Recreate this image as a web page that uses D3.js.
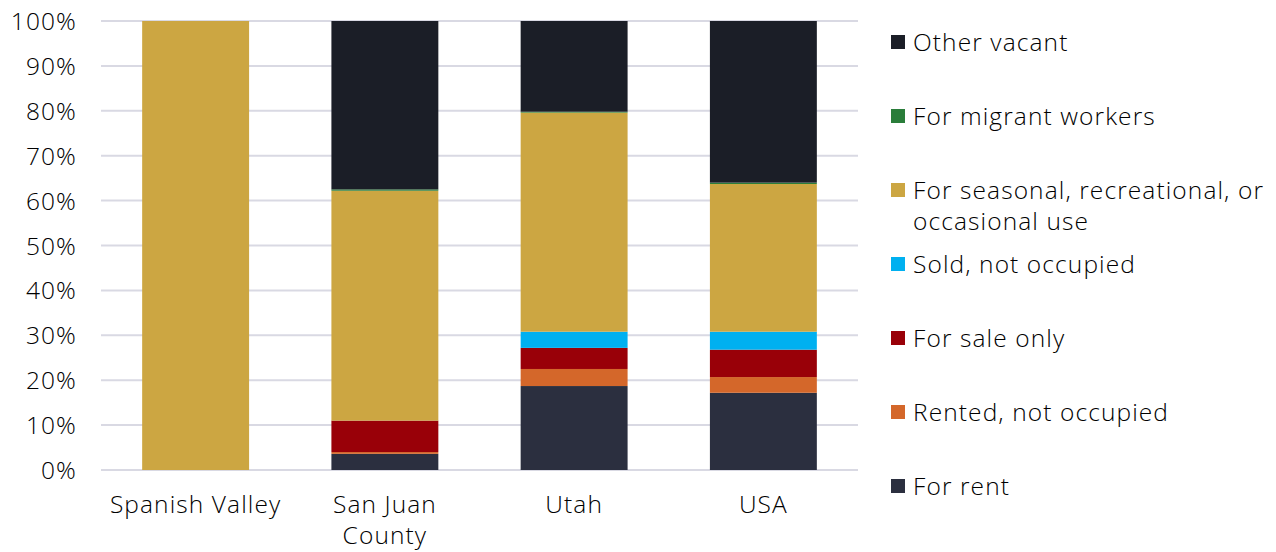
<!DOCTYPE html>
<html><head><meta charset="utf-8">
<script src="https://cdn.jsdelivr.net/npm/d3@7"></script>
<style>body{margin:0;background:#fff;} text{font-family:"Open Sans",Lato,sans-serif;fill:#000;font-weight:300;letter-spacing:1.1px;}</style>
</head><body>
<svg id="chart" width="1276" height="552"></svg>
<script>
const categories = ["Spanish Valley", "San Juan County", "Utah", "USA"];
const categoryLines = [["Spanish Valley"], ["San Juan", "County"], ["Utah"], ["USA"]];
const seriesNames = ["For rent", "Rented, not occupied", "For sale only", "Sold, not occupied", "For seasonal, recreational, or occasional use", "For migrant workers", "Other vacant"];
const forRent = [0, 3.6, 18.7, 17.2];
const rentedNotOccupied = [0, 0.4, 3.8, 3.5];
const forSaleOnly = [0, 7.0, 4.7, 6.1];
const soldNotOccupied = [0, 0, 3.6, 4.0];
const seasonal = [100, 51.2, 48.8, 32.9];
const migrantWorkers = [0, 0.3, 0.2, 0.3];
const otherVacant = [0, 37.5, 20.2, 36.0];
const yTicks = [0, 10, 20, 30, 40, 50, 60, 70, 80, 90, 100];
const colors = ["#2b2f3f", "#d4672a", "#990008", "#00b0f0", "#cca642", "#2a7d3a", "#1b1e27"];

const seriesValues = [forRent, rentedNotOccupied, forSaleOnly, soldNotOccupied, seasonal, migrantWorkers, otherVacant];
const keys = seriesNames;
const rows = categories.map((c, i) => {
  const r = {category: c};
  keys.forEach((k, j) => r[k] = seriesValues[j][i]);
  return r;
});

const FONT = "'Open Sans', Lato, sans-serif";
const FS = 24.5;
const svg = d3.select("#chart");
const x = d3.scaleBand().domain(categories).range([101, 858]).paddingInner(0.435).paddingOuter(0.2175);
const y = d3.scaleLinear().domain([0, 100]).range([470, 21]);

svg.append("g").selectAll("line").data(yTicks).join("line")
  .attr("x1", 101).attr("x2", 858)
  .attr("y1", d => y(d)).attr("y2", d => y(d))
  .attr("stroke", "#d9d9e3").attr("stroke-width", 2);

const yAxis = d3.axisLeft(y).tickValues(yTicks).tickFormat(d => d + "%").tickSize(0).tickPadding(0);
const ya = svg.append("g").attr("transform", "translate(77,0)").call(yAxis);
ya.select(".domain").remove();
ya.selectAll("text").attr("font-size", FS).style("font-family", FONT).attr("fill", "#000").attr("dy", "0.35em");

const stacked = d3.stack().keys(keys)(rows);
svg.append("g").selectAll("g").data(stacked).join("g")
  .attr("fill", (d, i) => colors[i])
  .selectAll("rect").data(d => d).join("rect")
  .attr("x", d => x(d.data.category))
  .attr("width", x.bandwidth())
  .attr("y", d => y(d[1]))
  .attr("height", d => Math.max(0, y(d[0]) - y(d[1])));

const xAxis = d3.axisBottom(x).tickSize(0).tickFormat("");
const xa = svg.append("g").attr("transform", "translate(0,470)").call(xAxis);
xa.select(".domain").remove();
xa.selectAll(".tick").each(function(d, i) {
  const t = d3.select(this).append("text").attr("text-anchor", "middle").attr("font-size", FS).style("font-family", FONT).attr("fill", "#000");
  categoryLines[i].forEach((ln, k) => {
    t.append("tspan").attr("x", 0).attr("y", 43 + k * 31).text(ln);
  });
});

const legendItems = [
  {name: "Other vacant", lines: ["Other vacant"], color: colors[6]},
  {name: "For migrant workers", lines: ["For migrant workers"], color: colors[5]},
  {name: seriesNames[4], lines: ["For seasonal, recreational, or", "occasional use"], color: colors[4]},
  {name: "Sold, not occupied", lines: ["Sold, not occupied"], color: colors[3]},
  {name: "For sale only", lines: ["For sale only"], color: colors[2]},
  {name: "Rented, not occupied", lines: ["Rented, not occupied"], color: colors[1]},
  {name: "For rent", lines: ["For rent"], color: colors[0]}
];
const lg = svg.append("g").selectAll("g").data(legendItems).join("g")
  .attr("transform", (d, i) => `translate(891,${42 + i * 74})`);
lg.append("rect").attr("x", 0).attr("y", -7).attr("width", 14).attr("height", 14).attr("fill", d => d.color);
lg.append("text").attr("font-size", FS).style("font-family", FONT).attr("fill", "#000")
  .each(function(d) {
    const t = d3.select(this);
    d.lines.forEach((ln, k) => t.append("tspan").attr("x", 22).attr("y", k * 31).attr("dy", "0.35em").text(ln));
  });
</script>
</body></html>
